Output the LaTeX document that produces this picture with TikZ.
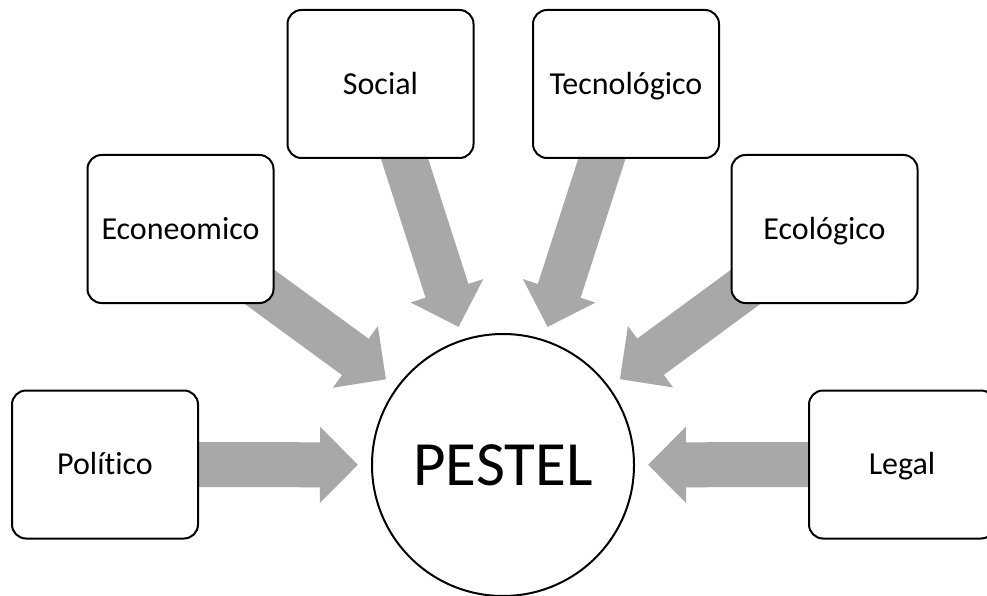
\documentclass[tikz,border=0pt]{standalone}
\usepackage{fontspec}
\setmainfont{Carlito}[Ligatures=NoCommon]
\usetikzlibrary{arrows.meta,backgrounds}
\definecolor{flowgray}{RGB}{168,168,168}
\tikzset{
  factor/.style={draw, line width=2pt, fill=white, rounded corners=14pt,
    minimum width=186pt, minimum height=148pt, inner sep=0pt,
    text height=20.5pt, text depth=0pt,
    font=\fontsize{32}{38}\selectfont},
  hub/.style={draw, circle, line width=2pt, fill=white, minimum size=262pt,
    inner sep=0pt, text height=40pt, text depth=0pt,
    font=\fontsize{63}{70}\selectfont},
  flow/.style={draw=flowgray, line width=45pt,
    -{Triangle[width=74pt,length=38pt]}, shorten >=13pt}
}
\begin{document}
\begin{tikzpicture}[x=1pt,y=-1pt]
\clip (0,0) rectangle (987,596);
\node[hub] (pestel) at (503,465) {PESTEL};
\node[factor] (pol) at (105,464.5) {Político};
\node[factor] (eco) at (180.5,229) {Econeomico};
\node[factor] (soc) at (380.5,84) {Social};
\node[factor] (tec) at (626,84) {Tecnológico};
\node[factor] (ecl) at (824.5,229) {Ecológico};
\node[factor] (leg) at (902,464.5) {Legal};
\begin{scope}[on background layer]
\draw[flow] (pol.center) -- (pestel);
\draw[flow] (eco.center) -- (pestel);
\draw[flow] (soc.center) -- (pestel);
\draw[flow] (tec.center) -- (pestel);
\draw[flow] (ecl.center) -- (pestel);
\draw[flow] (leg.center) -- (pestel);
\end{scope}
\end{tikzpicture}
\end{document}
